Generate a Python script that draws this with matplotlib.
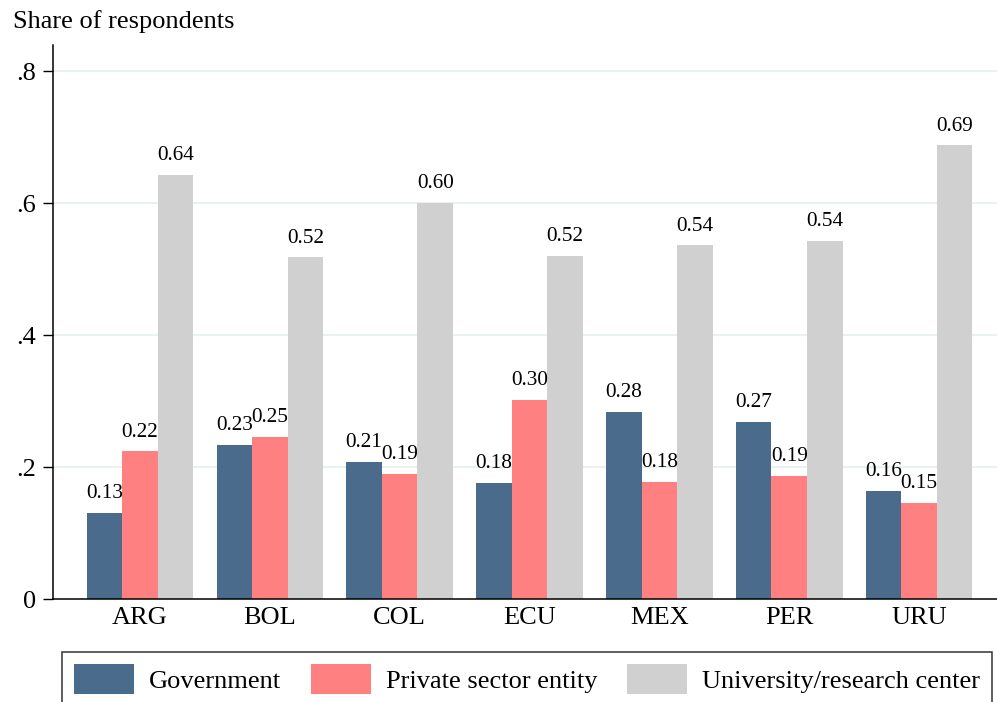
import matplotlib

matplotlib.use("Agg")
import matplotlib.pyplot as plt
import numpy as np

plt.rcParams["font.family"] = ["Liberation Serif", "DejaVu Serif"]

COUNTRIES = ["ARG", "BOL", "COL", "ECU", "MEX", "PER", "URU"]
GOVERNMENT = [0.131, 0.234, 0.208, 0.176, 0.284, 0.269, 0.164]
PRIVATE = [0.224, 0.246, 0.190, 0.302, 0.178, 0.187, 0.146]
UNIVERSITY = [0.643, 0.518, 0.601, 0.520, 0.536, 0.543, 0.688]
SERIES_NAMES = ["Government", "Private sector entity", "University/research center"]
Y_TICKS = [0, 0.2, 0.4, 0.6, 0.8]
Y_TICK_LABELS = ["0", ".2", ".4", ".6", ".8"]

COLORS = ["#4a6b8b", "#ff8080", "#d0d0d0"]
GRID_COLOR = "#eaf1f3"

fig = plt.figure(figsize=(9.97, 7.02), dpi=100)
ax = fig.add_axes([53 / 997, 103 / 702, 944 / 997, 554 / 702])

x = np.arange(len(COUNTRIES))
width = 0.2736
series = [GOVERNMENT, PRIVATE, UNIVERSITY]
handles = []
for i, (values, name, color) in enumerate(zip(series, SERIES_NAMES, COLORS)):
    pos = x + (i - 1) * width
    bars = ax.bar(pos, values, width=width, color=color, label=name, zorder=2)
    handles.append(bars)
    for xp, v in zip(pos, values):
        ax.annotate(f"{v:.2f}", (xp, v), xytext=(0, 10.5), textcoords="offset points",
                    ha="center", va="baseline", fontsize=15.3, zorder=3)

ax.set_xlim(-0.67, 6.6)
ax.set_ylim(0, 0.84)
ax.set_xticks(x)
ax.set_xticklabels(COUNTRIES, fontsize=19)
ax.set_yticks(Y_TICKS)
ax.set_yticklabels(Y_TICK_LABELS, fontsize=19)
ax.tick_params(axis="x", length=0, pad=6)
ax.tick_params(axis="y", length=7, width=1.0, pad=5)

for y in Y_TICKS[1:]:
    ax.axhline(y, color=GRID_COLOR, linewidth=1.5, zorder=1)

for side in ["top", "right"]:
    ax.spines[side].set_visible(False)
for side in ["left", "bottom"]:
    ax.spines[side].set_linewidth(1.1)

fig.text(13 / 997, 1 - 28 / 702, "Share of respondents", fontsize=19, ha="left", va="baseline")

# legend box runs off the bottom edge, as in the original export
leg = fig.legend(handles=handles, labels=SERIES_NAMES, loc="upper left",
                 bbox_to_anchor=(62 / 997, 1 - 652 / 702), ncol=3, fontsize=19,
                 frameon=True, fancybox=False, edgecolor="black", borderaxespad=0,
                 borderpad=0.45, handlelength=2.27, handleheight=1.4,
                 handletextpad=0.58, columnspacing=1.12)
leg.get_frame().set_linewidth(1.1)

fig.savefig("out.png", dpi=100)
